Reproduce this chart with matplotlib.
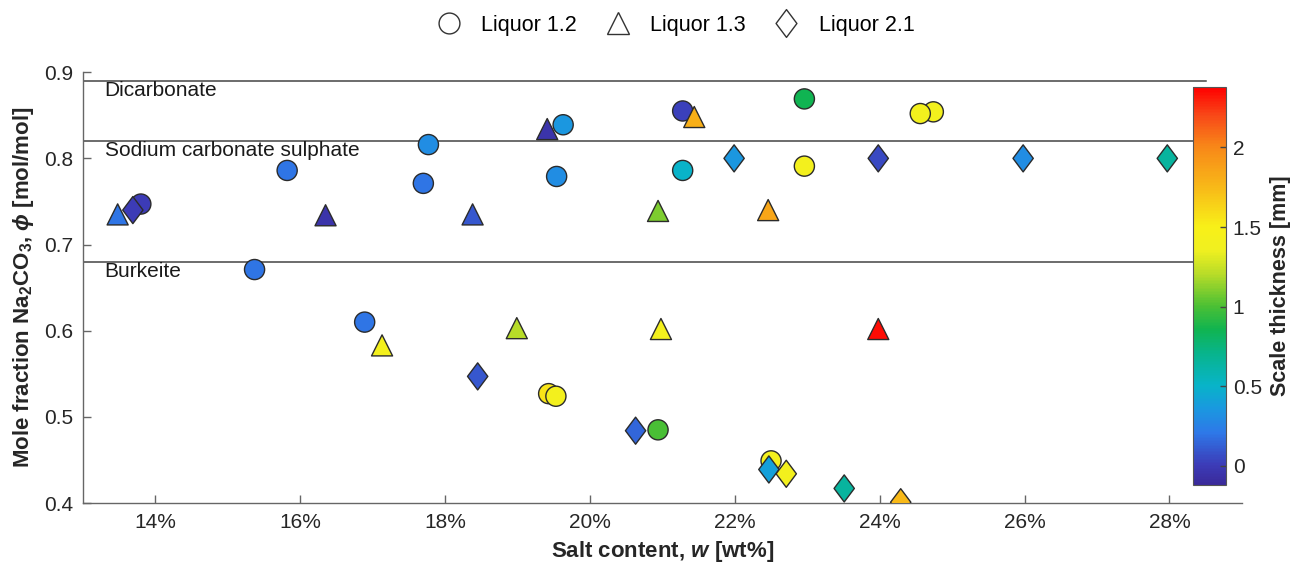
import numpy as np
import matplotlib
matplotlib.use('Agg')
from matplotlib import pyplot as plt
from matplotlib.colors import LinearSegmentedColormap, Normalize
from matplotlib.path import Path
from matplotlib.lines import Line2D

plt.rcParams['font.family'] = ['Liberation Sans', 'DejaVu Sans']
plt.rcParams['mathtext.fontset'] = 'custom'
plt.rcParams['mathtext.rm'] = 'Liberation Sans:bold'
plt.rcParams['mathtext.it'] = 'Liberation Sans:bold:italic'
plt.rcParams['mathtext.bf'] = 'Liberation Sans:bold'

# Liquor 1.2 (circles)
l12_w = [13.80, 15.37, 15.82, 16.89, 17.70, 17.77, 19.43, 19.53, 19.54, 19.63,
         20.94, 21.28, 21.28, 22.50, 22.96, 22.96, 24.74, 24.56]
l12_phi = [0.747, 0.671, 0.786, 0.610, 0.771, 0.816, 0.527, 0.524, 0.779, 0.839,
           0.485, 0.855, 0.786, 0.449, 0.869, 0.791, 0.854, 0.852]
l12_t = [0.0, 0.2, 0.2, 0.2, 0.2, 0.3, 1.55, 1.42, 0.3, 0.35,
         1.0, 0.02, 0.5, 1.42, 0.85, 1.42, 1.42, 1.42]

# Liquor 1.3 (triangles)
l13_w = [13.48, 16.35, 17.13, 18.38, 18.99, 19.41, 20.94, 20.98, 21.44, 22.46, 23.98]
l13_phi = [0.735, 0.734, 0.583, 0.735, 0.603, 0.834, 0.739, 0.602, 0.848, 0.740, 0.602]
l13_t = [0.2, -0.05, 1.42, 0.1, 1.2, -0.05, 1.1, 1.42, 1.8, 1.85, 2.35]

# Liquor 2.1 (diamonds)
l21_w = [13.69, 18.45, 20.63, 21.99, 22.47, 22.71, 23.51, 23.98, 24.29, 25.98, 27.97]
l21_phi = [0.740, 0.547, 0.484, 0.800, 0.439, 0.434, 0.417, 0.800, 0.401, 0.800, 0.800]
l21_t = [0.0, 0.1, 0.15, 0.35, 0.4, 1.42, 0.65, 0.05, 1.75, 0.3, 0.65]

# phase boundaries
phase_names = ['Dicarbonate', 'Sodium carbonate sulphate', 'Burkeite']
phase_phi = [0.89, 0.82, 0.68]

xticks = [14, 16, 18, 20, 22, 24, 26, 28]
xticklabels = ['14%', '16%', '18%', '20%', '22%', '24%', '26%', '28%']
yticks = [0.4, 0.5, 0.6, 0.7, 0.8, 0.9]
cticks = [0, 0.5, 1, 1.5, 2]
cticklabels = ['0', '0.5', '1', '1.5', '2']

cmap = LinearSegmentedColormap.from_list('scale', [
    (0.00, '#3a2a9a'), (0.05, '#3c3cb8'), (0.13, '#2e78e8'), (0.19, '#1a98e0'),
    (0.25, '#08b4c8'), (0.33, '#08b48c'), (0.39, '#10b450'), (0.45, '#4cc034'),
    (0.53, '#b8dc28'), (0.59, '#f0f020'), (0.65, '#f8f018'), (0.75, '#f8b818'),
    (0.85, '#f88818'), (0.93, '#f84818'), (1.00, '#ff0000')])
norm = Normalize(-0.12, 2.38)

diamond = Path([(0, 1), (0.75, 0), (0, -1), (-0.75, 0), (0, 1)],
               [Path.MOVETO, Path.LINETO, Path.LINETO, Path.LINETO, Path.CLOSEPOLY])

fig = plt.figure(figsize=(12.95, 5.64), dpi=100)
ax = fig.add_axes([0.064, 0.108, 0.895, 0.764])

for y, name in zip(phase_phi, phase_names):
    ax.plot([13, 28.5], [y, y], color='#444444', lw=1.1, zorder=1)
    ax.text(13.3, y - 0.011, name, fontsize=15, color='#1a1a1a', va='center', ha='left')

ec = '#2b2b2b'
ax.scatter(l12_w, l12_phi, c=l12_t, cmap=cmap, norm=norm, marker='o', s=210,
           edgecolors=ec, linewidths=1.0, zorder=3)
ax.scatter(l13_w, l13_phi, c=l13_t, cmap=cmap, norm=norm, marker='^', s=230,
           edgecolors=ec, linewidths=1.0, zorder=3)
ax.scatter(l21_w, l21_phi, c=l21_t, cmap=cmap, norm=norm, marker=diamond, s=380,
           edgecolors=ec, linewidths=1.0, zorder=3)

ax.set_xlim(13, 29)
ax.set_ylim(0.4, 0.9)
ax.set_xticks(xticks)
ax.set_xticklabels(xticklabels)
ax.set_yticks(yticks)
ax.set_yticklabels(['0.4', '0.5', '0.6', '0.7', '0.8', '0.9'])
for s in ['top', 'right']:
    ax.spines[s].set_visible(False)
for s in ['left', 'bottom']:
    ax.spines[s].set_color('#666666')
    ax.spines[s].set_linewidth(1.0)
    ax.spines[s].set_clip_on(False)
ax.tick_params(direction='in', length=6, width=1, color='#666666',
               labelsize=15, labelcolor='#262626', pad=7)

ax.set_xlabel(r'Salt content, $w$ [wt%]', fontsize=16, fontweight='bold',
              color='#262626', labelpad=5)
ax.set_ylabel(r'Mole fraction Na$_2$CO$_3$, $\phi$ [mol/mol]', fontsize=16,
              fontweight='bold', color='#262626', labelpad=6)

# colour bar
cax = fig.add_axes([0.921, 0.140, 0.0255, 0.706])
sm = plt.cm.ScalarMappable(norm=norm, cmap=cmap)
cb = fig.colorbar(sm, cax=cax)
cb.set_ticks(cticks)
cb.set_ticklabels(cticklabels)
cb.outline.set_edgecolor('#555555')
cb.outline.set_linewidth(0.8)
cax.tick_params(direction='in', length=4, width=1, color='#444444',
                labelsize=15, labelcolor='#262626', pad=5)
cb.set_label('Scale thickness [mm]', fontsize=15.5, fontweight='bold',
             color='#262626', labelpad=6)

# legend
handles = [
    Line2D([], [], ls='none', marker='o', ms=15, mfc='white', mec='#333333', mew=1.0),
    Line2D([], [], ls='none', marker='^', ms=16, mfc='white', mec='#333333', mew=1.0),
    Line2D([], [], ls='none', marker=diamond, ms=20, mfc='white', mec='#333333', mew=1.0),
]
fig.legend(handles, ['Liquor 1.2', 'Liquor 1.3', 'Liquor 2.1'], loc='center',
           bbox_to_anchor=(0.518, 0.955), ncol=3, frameon=False, fontsize=15.5,
           handletextpad=0.5, columnspacing=0.9)

fig.savefig('out.png', dpi=100)
